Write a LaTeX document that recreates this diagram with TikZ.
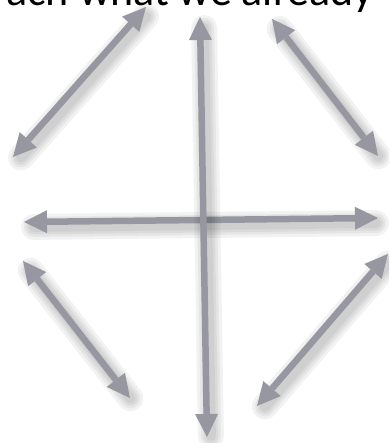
\documentclass[tikz,border=0pt]{standalone}
\usepackage{fontspec}
\setmainfont{Carlito}
\usetikzlibrary{arrows.meta}
\definecolor{arrgray}{RGB}{150,151,160}
\tikzset{
  dbl/.style={draw=arrgray, line width=6.5pt,
    {Triangle[length=23pt,width=23pt,line width=0pt]}-{Triangle[length=23pt,width=23pt,line width=0pt]}},
  shd/.style={draw=black, line width=#1, opacity=0.05, line cap=round,
    shorten <=6pt, shorten >=6pt},
}
\begin{document}
\begin{tikzpicture}[x=1pt,y=1pt]
\useasboundingbox (0,0) rectangle (389,443);
\clip (0,0) rectangle (389,443);
\node[anchor=base east, inner sep=0pt, font=\fontsize{44}{44}\selectfont] (txt) at (374,437) {ach what we already};
% end points
\coordinate (tlA) at (13,286);  \coordinate (tlB) at (146,436);
\coordinate (trA) at (272,424); \coordinate (trB) at (378,287);
\coordinate (blA) at (23,182);  \coordinate (blB) at (130,45);
\coordinate (brA) at (388,189); \coordinate (brB) at (257,37);
\coordinate (hA) at (24,221);   \coordinate (hB) at (378,225);
\coordinate (vA) at (200,426);  \coordinate (vB) at (207,6);
% shadows and arrows
\foreach \s/\e in {tlA/tlB, trA/trB, blA/blB, brA/brB, hA/hB, vA/vB}{
  \foreach \w in {26,20,15,10}{
    \draw[shd=\w pt] ([shift={(4,-5)}]\s) -- ([shift={(4,-5)}]\e);
  }
  \draw[dbl] (\s) -- (\e);
}
\end{tikzpicture}
\end{document}
